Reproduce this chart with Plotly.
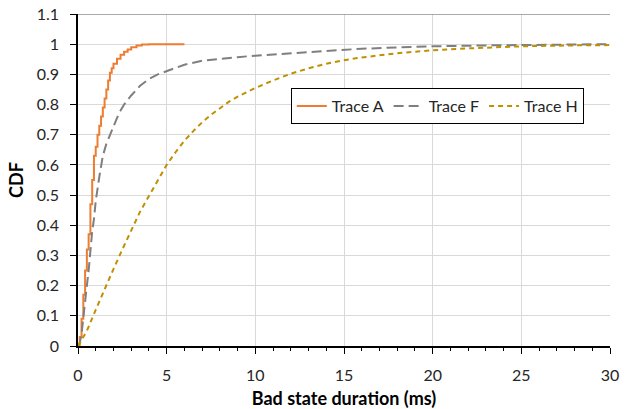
import plotly.graph_objects as go

# CDF readings from the chart (x in ms)
a_x = [0, 0.1, 0.2, 0.3, 0.4, 0.5, 0.6, 0.7, 0.8, 0.9, 1.0, 1.1, 1.2, 1.3, 1.4, 1.5, 1.6, 1.7, 1.8, 1.9,
       2.0, 2.2, 2.4, 2.6, 2.8, 3.0, 3.3, 3.6, 4.0, 6.0]
a_y = [0, 0.03, 0.09, 0.17, 0.25, 0.32, 0.37, 0.47, 0.55, 0.63, 0.66, 0.70, 0.73, 0.76, 0.79, 0.82, 0.85, 0.88,
       0.905, 0.92, 0.935, 0.952, 0.965, 0.975, 0.982, 0.99, 0.996, 0.999, 1.0, 1.0]

f_x = [0, 0.1, 0.2, 0.3, 0.4, 0.5, 0.6, 0.7, 0.8, 0.9, 1.0, 1.2, 1.4, 1.6, 1.8, 2.0, 2.3, 2.6, 3.0, 3.5,
       4.0, 4.5, 5, 6, 7, 8, 9, 10, 12, 14, 16, 18, 20, 23, 26, 30]
f_y = [0, 0.01, 0.04, 0.10, 0.15, 0.20, 0.25, 0.32, 0.38, 0.42, 0.48, 0.56, 0.63, 0.67, 0.70, 0.73, 0.77, 0.80,
       0.83, 0.862, 0.885, 0.90, 0.91, 0.932, 0.945, 0.952, 0.957, 0.962, 0.97, 0.979, 0.985, 0.989, 0.993,
       0.996, 0.998, 1.0]

h_x = [0, 0.5, 1, 1.5, 2, 2.5, 3, 3.5, 4, 4.5, 5, 5.5, 6, 6.5, 7, 7.5, 8, 8.5, 9, 10, 11, 12, 13, 14, 15, 16,
       18, 20, 22, 25, 28, 30]
h_y = [0, 0.05, 0.12, 0.19, 0.255, 0.32, 0.385, 0.445, 0.497, 0.55, 0.60, 0.642, 0.68, 0.712, 0.741, 0.766,
       0.789, 0.809, 0.826, 0.855, 0.88, 0.902, 0.92, 0.935, 0.947, 0.956, 0.97, 0.98, 0.986, 0.993, 0.996, 0.997]

font = "Lato, 'Open Sans', sans-serif"

fig = go.Figure()
fig.add_trace(go.Scatter(x=a_x, y=a_y, mode="lines", name="Trace A", line_shape="hv",
                         line=dict(color="#ED7D31", width=2)))
fig.add_trace(go.Scatter(x=f_x, y=f_y, mode="lines", name="Trace F",
                         line=dict(color="#7F7F7F", width=2, dash="10px,5px")))
fig.add_trace(go.Scatter(x=h_x, y=h_y, mode="lines", name="Trace H",
                         line=dict(color="#BF9000", width=2, dash="5px,4px")))

# darker top border of the plot area
fig.add_shape(type="line", xref="paper", yref="y", x0=0, x1=1, y0=1.1, y1=1.1,
              line=dict(color="#8C8C8C", width=1.5))

fig.update_layout(
    width=633, height=409,
    margin=dict(l=78, r=23, t=14, b=63),
    paper_bgcolor="white", plot_bgcolor="white",
    font=dict(family=font, size=16, color="#262626"),
    showlegend=True,
    legend=dict(orientation="h", x=0.40, y=0.777, xanchor="left", yanchor="top",
                bordercolor="black", borderwidth=1, bgcolor="white",
                font=dict(size=16, color="#262626"), itemwidth=30),
    xaxis=dict(range=[0, 30], dtick=5, tick0=0, showgrid=True, gridcolor="#D9D9D9",
               showline=True, linecolor="black", linewidth=1.5, automargin=False,
               ticks="outside", ticklen=6, tickcolor="black", ticklabelstandoff=8,
               minor=dict(dtick=1, ticks="outside", ticklen=3, tickcolor="black", showgrid=False),
               zeroline=False,
               title=dict(text="<b>Bad state duration (ms)</b>", font=dict(size=18, color="black"), standoff=9)),
    yaxis=dict(range=[0, 1.1], dtick=0.1, tick0=0, showgrid=True, gridcolor="#D9D9D9",
               showline=True, linecolor="black", linewidth=1.5, automargin=False,
               ticks="outside", ticklen=6, tickcolor="black", ticklabelstandoff=8, zeroline=False,
               tickformat="~g",
               title=dict(text="<b>CDF</b>", font=dict(size=18, color="black"), standoff=8)),
)

fig.write_html("out.html", config={"displayModeBar": False},
               post_script="document.body.style.margin='0';")
